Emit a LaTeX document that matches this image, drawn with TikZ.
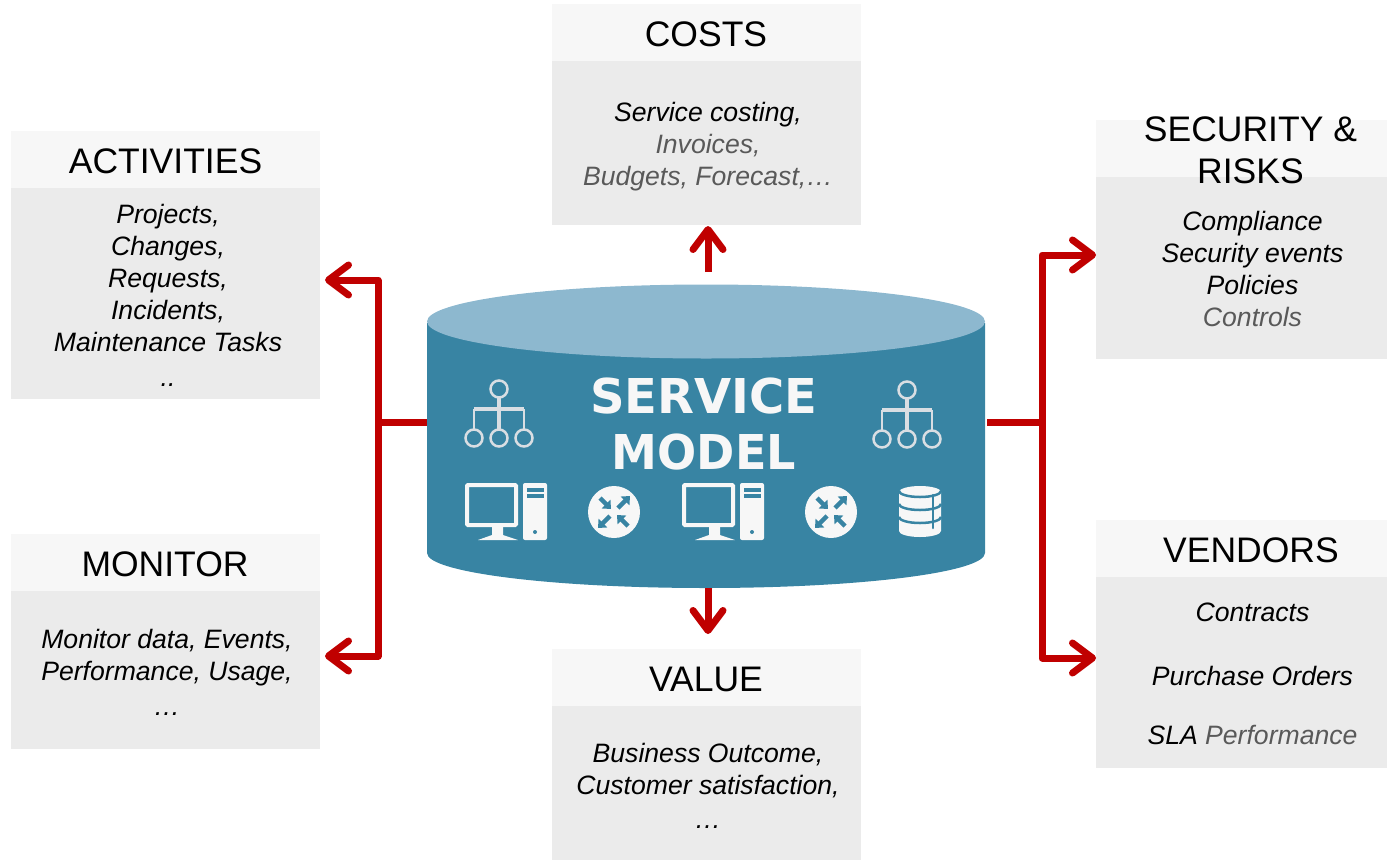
\documentclass[tikz,border=0pt]{standalone}
\usepackage{fontspec}
\setmainfont{Liberation Sans}
\newfontfamily\modelfont{DejaVu Sans}
\usetikzlibrary{arrows.meta}

\definecolor{modelside}{HTML}{3884A3}
\definecolor{modeltop}{HTML}{8DB8CF}
\definecolor{headfill}{HTML}{F7F7F7}
\definecolor{bodyfill}{HTML}{EBEBEB}
\definecolor{linkred}{HTML}{C00000}
\definecolor{softtext}{HTML}{595959}
\definecolor{iconline}{HTML}{D9DEE3}
\definecolor{iconfill}{HTML}{F7F7F7}

\tikzset{
	headbox/.style={fill=headfill, inner sep=0pt, minimum width=#1, minimum height=57pt},
	headtext/.style={inner sep=0pt, align=center, font=\fontsize{35.5}{42}\selectfont},
	bodybox/.style={fill=bodyfill, inner sep=0pt, minimum width=#1},
	bodytext/.style={inner sep=0pt, align=center, font=\fontsize{26.6}{32}\selectfont\itshape},
	link/.style={color=linkred, line width=7pt, line join=round, -{Straight Barb[length=20pt,width=30pt,round]}},
	linkplain/.style={color=linkred, line width=7pt, line join=round},
	orgline/.style={color=iconline, line width=2.5pt},
	orgstem/.style={color=iconline, line width=3.5pt},
	tealline/.style={color=modelside, line width=2.5pt},
	routerarrow/.style={color=modelside, line width=4.5pt, -{Triangle[length=7pt,width=12pt]}}
}

\begin{document}
\begin{tikzpicture}[x=1pt,y=-1pt]
	\useasboundingbox (0,0) rectangle (1387,860);

	% Boxes
	%Costs
	\node[bodybox=309pt, minimum height=164pt] (costs) at (706.5,143) {};
	\node[headbox=309pt] (costsHead) at (706.5,32.5) {};
	\node[headtext] (costsTitle) at (706,34) {COSTS};
	%Activities
	\node[bodybox=309pt, minimum height=211pt] (activities) at (165.5,293.5) {};
	\node[headbox=309pt] (activitiesHead) at (165.5,159.5) {};
	\node[headtext] (activitiesTitle) at (165.5,161) {ACTIVITIES};
	%Monitor
	\node[bodybox=309pt, minimum height=158pt] (monitor) at (165.5,670) {};
	\node[headbox=309pt] (monitorHead) at (165.5,562.5) {};
	\node[headtext] (monitorTitle) at (165,564) {MONITOR};
	%Security
	\node[bodybox=291pt, minimum height=182pt] (security) at (1241.5,268) {};
	\node[headbox=291pt] (securityHead) at (1241.5,148.5) {};
	\node[headtext] (securityTitle) at (1250.5,150) {SECURITY \&\\RISKS};
	%Vendors
	\node[bodybox=291pt, minimum height=191pt] (vendors) at (1241.5,672.5) {};
	\node[headbox=291pt] (vendorsHead) at (1241.5,548.5) {};
	\node[headtext] (vendorsTitle) at (1251,550) {VENDORS};
	%Value
	\node[bodybox=309pt, minimum height=154pt] (value) at (706.5,783) {};
	\node[headbox=309pt] (valueHead) at (706.5,677.5) {};
	\node[headtext] (valueTitle) at (706,679) {VALUE};

	% Box texts
	\node[bodytext] (costsText) at (708,147) {Service costing,\\\textcolor{softtext}{Invoices,}\\\textcolor{softtext}{Budgets, Forecast,\dots}};
	\node[bodytext] (activitiesText) at (168,295) {Projects,\\Changes,\\Requests,\\Incidents,\\Maintenance Tasks\\[3pt]..};
	\node[bodytext] (monitorText) at (167,672.5) {Monitor data, Events,\\Performance, Usage,\\[3pt]\dots};
	\node[bodytext] (securityText) at (1252.5,269) {Compliance\\Security events\\Policies\\\textcolor{softtext}{Controls}};
	\node[bodytext] (vendorsText) at (1252.5,674) {Contracts\\[32pt]Purchase Orders\\[27pt]SLA \textcolor{softtext}{Performance}};
	\node[bodytext] (valueText) at (708,785.5) {Business Outcome,\\Customer satisfaction,\\[2pt]\dots};

	% Draw cylinder
	\fill[modelside] (427,323) -- (427,553) arc[start angle=180, end angle=0, x radius=279, y radius=35] -- (985,323) -- cycle;
	\fill[modeltop] (706,321.5) ellipse[x radius=279, y radius=37];
	\node[inner sep=0pt, align=center, text=iconfill, font=\fontsize{48}{56}\selectfont\modelfont\bfseries] (model) at (704,424) {SERVICE\\\scalebox{.96}[1]{MODEL}};

	% Org charts
	\foreach \ox/\oy in {0/0,408/1} {
		\begin{scope}[xshift=\ox pt, yshift=-\oy pt]
			\foreach \cx/\cy in {499/389,474/438,499/438,524/438}
				\draw[orgline] (\cx,\cy) circle[radius=8.5];
			\draw[orgstem] (499,397.5) -- (499,429.5);
			\draw[orgstem] (474,409) -- (524,409);
			\draw[orgline] (474,429.5) -- (474,409);
			\draw[orgline] (524,429.5) -- (524,409);
		\end{scope}
	}

	% Computers and routers
	\foreach \ox in {0,217} {
		\begin{scope}[xshift=\ox pt]
			%Monitor
			\draw[color=iconfill, line width=4pt, rounded corners=1pt] (467,485) rectangle (516,525);
			\fill[iconfill] (492,527) -- (503,527) -- (503,535) -- (518,540) -- (478,540) -- (492,535) -- cycle;
			%Tower
			\fill[iconfill, rounded corners=2pt] (523,483) rectangle (547,540);
			\fill[modelside] (527,488) rectangle (544,492);
			\fill[modelside] (527,494) rectangle (544,498);
			\fill[modelside] (535,532) circle[radius=2];
			%Router
			\fill[iconfill] (614,512) circle[radius=26];
			\draw[routerarrow] (600,498) -- (611,509);
			\draw[routerarrow] (618,508) -- (630,496);
			\draw[routerarrow] (610,516) -- (598,528);
			\draw[routerarrow] (628,526) -- (617,515);
		\end{scope}
	}

	% Database
	\fill[iconfill] (899,492) -- (899,531) arc[start angle=180, end angle=0, x radius=21, y radius=6] -- (941,492) arc[start angle=0, end angle=-180, x radius=21, y radius=6] -- cycle;
	\draw[tealline] (899,491) arc[start angle=180, end angle=0, x radius=21, y radius=6];
	\draw[tealline] (899,504) arc[start angle=180, end angle=0, x radius=21, y radius=6];
	\draw[tealline] (899,517) arc[start angle=180, end angle=0, x radius=21, y radius=6];
	\draw[tealline, line cap=round] (933,495) -- (933,528);

	% Connectors
	\coordinate (modelLeft) at (427,422);
	\coordinate (modelRight) at (987,422);
	\coordinate (modelTop) at (708,272);
	\coordinate (modelBottom) at (708,588);
	\coordinate (forkLeft) at (378,422);
	\coordinate (forkRight) at (1042,422);
	\coordinate (activitiesTip) at (325,280);
	\coordinate (monitorTip) at (325,656);
	\coordinate (securityTip) at (1096,255);
	\coordinate (vendorsTip) at (1096,658);
	\coordinate (costsTip) at (708,226);
	\coordinate (valueTip) at (708,634);

	\draw[linkplain] (modelLeft) -- (forkLeft);
	\draw[link] (forkLeft) |- (activitiesTip);
	\draw[link] (forkLeft) |- (monitorTip);
	\draw[linkplain] (modelRight) -- (forkRight);
	\draw[link] (forkRight) |- (securityTip);
	\draw[link] (forkRight) |- (vendorsTip);
	\draw[link] (modelTop) -- (costsTip);
	\draw[link] (modelBottom) -- (valueTip);
\end{tikzpicture}
\end{document}
